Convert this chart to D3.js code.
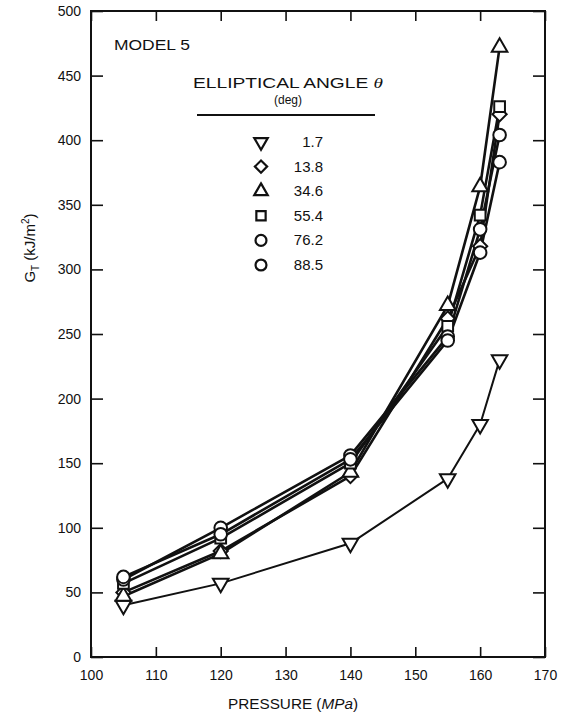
<!DOCTYPE html>
<html>
<head>
<meta charset="utf-8">
<script src="https://cdnjs.cloudflare.com/ajax/libs/d3/7.8.5/d3.min.js"></script>
<style>
  body { margin: 0; background: white; }
  svg text { font-family: "Liberation Sans", Arial, sans-serif; fill: #111; }
</style>
</head>
<body>
<div id="chart"></div>
<script>
// pressure points (MPa)
var pressure = [105, 120, 140, 155, 160, 163];

// G_T values (kJ/m^2) per elliptical angle
var angles = ["1.7", "13.8", "34.6", "55.4", "76.2", "88.5"];
var shapes = ["tridown", "diamond", "triangle", "square", "circle", "circle"];
var g17 = [40, 57, 88, 138, 180, 230];
var g138 = [50, 82, 140, 262, 318, 420];
var g346 = [47, 80, 143, 272, 364, 472];
var g554 = [57, 92, 150, 256, 342, 426];
var g762 = [60, 100, 156, 248, 331, 404];
var g885 = [62, 95, 153, 245, 313, 383];
var seriesValues = [g17, g138, g346, g554, g762, g885];

var xTicks = [100, 110, 120, 130, 140, 150, 160, 170];
var yTicks = [0, 50, 100, 150, 200, 250, 300, 350, 400, 450, 500];

var width = 572, height = 719;
var margin = {left: 91, right: 27, top: 11, bottom: 62};

var svg = d3.select("#chart")
  .append("svg")
  .attr("width", width)
  .attr("height", height);

var x = d3.scaleLinear().domain([100, 170]).range([margin.left, width - margin.right]);
var y = d3.scaleLinear().domain([0, 500]).range([height - margin.bottom, margin.top]);

// frame
svg.append("rect")
  .attr("x", x(100)).attr("y", y(500))
  .attr("width", x(170) - x(100)).attr("height", y(0) - y(500))
  .attr("fill", "none").attr("stroke", "#111").attr("stroke-width", 2);

// inward ticks on all four sides
var tickLen = 12;
function styleAxis(g) {
  g.select(".domain").remove();
  g.selectAll(".tick line").attr("stroke", "#111").attr("stroke-width", 1.6);
  g.selectAll(".tick text").attr("font-size", 14).attr("fill", "#111");
}
svg.append("g")
  .attr("transform", "translate(0," + y(0) + ")")
  .call(d3.axisBottom(x).tickValues(xTicks).tickSizeInner(-10).tickPadding(13))
  .call(styleAxis);
svg.append("g")
  .attr("transform", "translate(0," + y(500) + ")")
  .call(d3.axisTop(x).tickValues(xTicks).tickSizeInner(-10).tickFormat(""))
  .call(styleAxis);
svg.append("g")
  .attr("transform", "translate(" + x(100) + ",0)")
  .call(d3.axisLeft(y).tickValues(yTicks).tickSizeInner(-tickLen).tickPadding(10))
  .call(styleAxis);
svg.append("g")
  .attr("transform", "translate(" + x(170) + ",0)")
  .call(d3.axisRight(y).tickValues(yTicks).tickSizeInner(-tickLen).tickFormat(""))
  .call(styleAxis);

// axis titles
svg.append("text")
  .attr("x", 228).attr("y", 709)
  .attr("font-size", 15)
  .attr("textLength", 130).attr("lengthAdjust", "spacingAndGlyphs")
  .html('PRESSURE (<tspan font-style="italic">MPa</tspan>)');

var yl = svg.append("text")
  .attr("transform", "translate(35,248) rotate(-90)")
  .attr("text-anchor", "middle").attr("font-size", 15);
yl.append("tspan").text("G");
yl.append("tspan").attr("font-size", 10).attr("dy", 4).text("T");
yl.append("tspan").attr("dy", -4).text("  (kJ/m");
yl.append("tspan").attr("font-size", 10).attr("dy", -6).text("2");
yl.append("tspan").attr("dy", 6).text(")");

// symbols
function symbolPath(shape, k) {
  k = k || 1;
  if (shape === "circle") return d3.symbol(d3.symbolCircle, 125 * k)();
  if (shape === "square") return d3.symbol(d3.symbolSquare, 115 * k)();
  if (shape === "triangle" || shape === "tridown") return d3.symbol(d3.symbolTriangle, 105 * k)();
  if (shape === "diamond") return d3.symbol(d3.symbolSquare, 100 * k)();
}
function symbolRotate(shape) {
  if (shape === "tridown") return " rotate(180)";
  if (shape === "diamond") return " rotate(45)";
  return "";
}

var line = d3.line()
  .x(function(d) { return x(d.p); })
  .y(function(d) { return y(d.g); });

// draw lines first, then markers on top
var series = seriesValues.map(function(vals, i) {
  return vals.map(function(v, j) { return {p: pressure[j], g: v, shape: shapes[i]}; });
});

series.forEach(function(s, i) {
  svg.append("path")
    .attr("d", line(s))
    .attr("fill", "none")
    .attr("stroke", "#111")
    .attr("stroke-width", i === 0 ? 2 : 2.6)
    .attr("stroke-linejoin", "round");
});

series.forEach(function(s) {
  svg.selectAll(null)
    .data(s)
    .enter()
    .append("path")
    .attr("d", function(d) { return symbolPath(d.shape); })
    .attr("transform", function(d) {
      return "translate(" + x(d.p) + "," + y(d.g) + ")" + symbolRotate(d.shape);
    })
    .attr("fill", "white")
    .attr("stroke", "#111")
    .attr("stroke-width", 2);
});

// legend
svg.append("text").attr("x", 114).attr("y", 50).attr("font-size", 14)
  .attr("textLength", 76).attr("lengthAdjust", "spacingAndGlyphs").text("MODEL 5");
svg.append("text").attr("x", 193).attr("y", 88).attr("font-size", 15)
  .attr("textLength", 190).attr("lengthAdjust", "spacingAndGlyphs")
  .html('ELLIPTICAL ANGLE <tspan font-style="italic" font-family="Liberation Serif">θ</tspan>');
svg.append("text").attr("x", 288).attr("y", 104).attr("text-anchor", "middle").attr("font-size", 12).text("(deg)");
svg.append("line").attr("x1", 197).attr("x2", 375).attr("y1", 115).attr("y2", 115)
  .attr("stroke", "#111").attr("stroke-width", 1.8);

angles.forEach(function(a, i) {
  var ly = 142 + i * 24.6;
  svg.append("path")
    .attr("d", symbolPath(shapes[i], 0.75))
    .attr("transform", "translate(261," + ly + ")" + symbolRotate(shapes[i]))
    .attr("fill", "white").attr("stroke", "#111").attr("stroke-width", 2.2);
  svg.append("text")
    .attr("x", 323).attr("y", ly + 5)
    .attr("text-anchor", "end").attr("font-size", 15)
    .text(a);
});
</script>
</body>
</html>
